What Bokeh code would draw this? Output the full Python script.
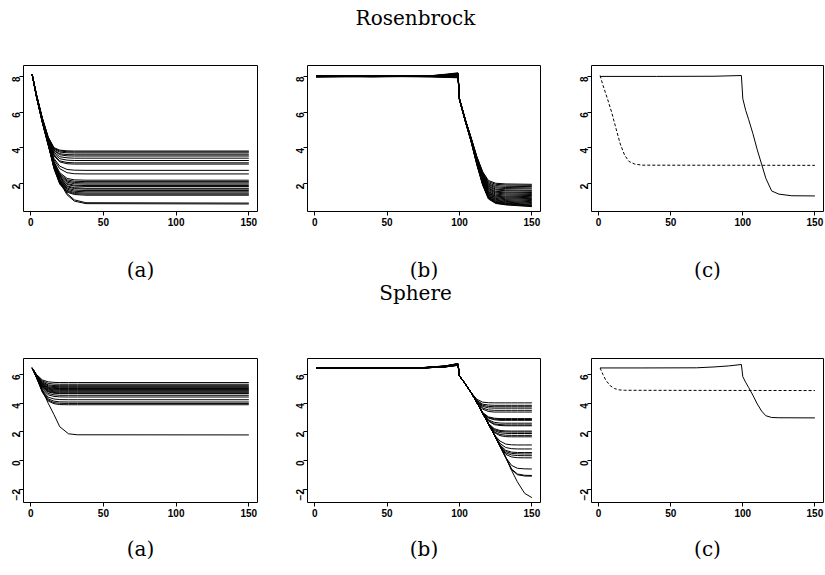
import math
from bokeh.plotting import figure
from bokeh.layouts import column, row
from bokeh.models import Range1d, FixedTicker, ColumnDataSource
from bokeh.core.properties import value
from bokeh.embed import file_html
from bokeh.resources import INLINE

# ---------------- texts and axes ----------------
TITLES = ["Rosenbrock", "Sphere"]
CAPTIONS = ["(a)", "(b)", "(c)"]
X_TICKS = [0, 50, 100, 150]
TOP_Y_TICKS = [2, 4, 6, 8]
BOT_Y_TICKS = [-2, 0, 2, 4, 6]
X_RANGE = (-4.96, 155.96)
TOP_Y_RANGE = (0.45, 8.61)
BOT_Y_RANGE = (-2.94, 7.12)

# ---------------- Rosenbrock (a) ----------------
A_X = [1, 4, 8, 12, 16, 20, 25, 30, 38, 150]
A_Y = [
    [8.10, 6.98, 5.68, 4.62, 4.02, 3.88, 3.84, 3.83, 3.83, 3.83],
    [8.10, 6.97, 5.66, 4.60, 3.98, 3.83, 3.79, 3.78, 3.78, 3.78],
    [8.10, 6.96, 5.65, 4.58, 3.94, 3.77, 3.73, 3.72, 3.72, 3.72],
    [8.10, 6.95, 5.64, 4.55, 3.88, 3.68, 3.63, 3.62, 3.62, 3.62],
    [8.10, 6.95, 5.62, 4.52, 3.84, 3.62, 3.56, 3.55, 3.55, 3.55],
    [8.10, 6.94, 5.60, 4.50, 3.76, 3.51, 3.45, 3.43, 3.43, 3.43],
    [8.10, 6.93, 5.60, 4.47, 3.68, 3.40, 3.32, 3.30, 3.30, 3.30],
    [8.10, 6.92, 5.58, 4.45, 3.60, 3.28, 3.19, 3.17, 3.17, 3.17],
    [8.10, 6.92, 5.57, 4.43, 3.56, 3.22, 3.12, 3.10, 3.10, 3.10],
    [8.10, 6.90, 5.55, 4.40, 3.42, 2.98, 2.80, 2.76, 2.75, 2.75],
    [8.10, 6.90, 5.55, 4.38, 3.34, 2.84, 2.62, 2.56, 2.55, 2.55],
    [8.10, 6.90, 5.53, 4.35, 3.24, 2.62, 2.30, 2.22, 2.20, 2.20],
    [8.10, 6.90, 5.52, 4.33, 3.20, 2.55, 2.22, 2.14, 2.12, 2.12],
    [8.10, 6.88, 5.52, 4.32, 3.16, 2.50, 2.15, 2.07, 2.05, 2.05],
    [8.10, 6.88, 5.50, 4.30, 3.12, 2.44, 2.09, 2.00, 1.98, 1.98],
    [8.10, 6.88, 5.50, 4.30, 3.08, 2.38, 2.01, 1.92, 1.90, 1.90],
    [8.10, 6.87, 5.50, 4.28, 3.04, 2.32, 1.96, 1.87, 1.85, 1.85],
    [8.10, 6.87, 5.48, 4.27, 3.00, 2.26, 1.88, 1.78, 1.75, 1.75],
    [8.10, 6.87, 5.48, 4.26, 2.98, 2.22, 1.83, 1.73, 1.70, 1.70],
    [8.10, 6.86, 5.47, 4.25, 2.95, 2.16, 1.76, 1.65, 1.62, 1.62],
    [8.10, 6.86, 5.46, 4.24, 2.92, 2.11, 1.70, 1.58, 1.55, 1.55],
    [8.10, 6.85, 5.45, 4.22, 2.90, 2.06, 1.63, 1.51, 1.48, 1.48],
    [8.10, 6.85, 5.45, 4.21, 2.87, 2.01, 1.58, 1.45, 1.42, 1.42],
    [8.10, 6.85, 5.44, 4.20, 2.84, 1.97, 1.53, 1.40, 1.36, 1.36],
    [8.10, 6.84, 5.42, 4.18, 3.05, 2.15, 1.45, 1.10, 0.94, 0.92],
    [8.10, 6.84, 5.40, 4.15, 3.00, 2.08, 1.38, 1.03, 0.89, 0.87],
]

# ---------------- Rosenbrock (b) ----------------
B_X = [1, 40, 80, 90, 99, 100, 104, 108, 112, 116, 120, 125, 132, 150]
B_PRE = [
    [8.02, 8.00, 8.03, 8.09, 8.15], [7.99, 8.01, 7.98, 7.95, 7.92],
    [8.01, 7.99, 8.02, 8.06, 8.10], [8.00, 8.02, 8.01, 8.04, 8.07],
    [7.98, 8.00, 8.00, 8.00, 8.02], [8.03, 8.01, 8.04, 8.12, 8.20],
    [8.00, 7.99, 8.00, 8.02, 8.05], [7.97, 8.00, 7.99, 7.97, 7.98],
    [8.02, 8.02, 8.03, 8.07, 8.13], [8.01, 8.00, 8.01, 8.05, 8.09],
    [7.99, 7.98, 8.00, 8.03, 8.06], [8.00, 8.01, 8.02, 8.08, 8.16],
    [8.02, 7.99, 8.01, 8.01, 8.04], [7.98, 8.01, 7.99, 8.02, 8.08],
    [8.01, 8.00, 8.03, 8.10, 8.18], [8.00, 8.00, 7.98, 7.96, 7.95],
    [7.99, 8.02, 8.00, 8.04, 8.11], [8.03, 8.00, 8.02, 8.05, 8.08],
    [8.00, 7.98, 8.01, 8.07, 8.14], [7.98, 8.01, 8.00, 7.99, 8.01],
    [8.01, 7.99, 8.02, 8.09, 8.17], [8.00, 8.00, 8.01, 8.03, 8.06],
    [8.02, 8.01, 7.99, 7.98, 8.00], [7.99, 8.00, 8.02, 8.06, 8.12],
]
B_POST = [
    [6.75, 5.60, 4.58, 3.52, 2.68, 2.18, 2.03, 1.99, 1.97],
    [6.75, 5.60, 4.57, 3.50, 2.64, 2.12, 1.97, 1.93, 1.91],
    [6.75, 5.59, 4.56, 3.48, 2.60, 2.05, 1.90, 1.86, 1.84],
    [6.75, 5.59, 4.55, 3.46, 2.56, 1.99, 1.83, 1.79, 1.77],
    [6.75, 5.58, 4.55, 3.44, 2.52, 1.94, 1.77, 1.73, 1.71],
    [6.74, 5.58, 4.54, 3.42, 2.48, 1.88, 1.70, 1.66, 1.63],
    [6.74, 5.57, 4.53, 3.40, 2.45, 1.84, 1.65, 1.61, 1.58],
    [6.74, 5.57, 4.52, 3.38, 2.42, 1.78, 1.58, 1.54, 1.51],
    [6.74, 5.56, 4.51, 3.36, 2.38, 1.74, 1.53, 1.49, 1.46],
    [6.73, 5.56, 4.50, 3.34, 2.35, 1.69, 1.48, 1.43, 1.40],
    [6.73, 5.55, 4.49, 3.32, 2.32, 1.64, 1.42, 1.37, 1.34],
    [6.73, 5.55, 4.48, 3.30, 2.28, 1.58, 1.36, 1.31, 1.28],
    [6.72, 5.54, 4.47, 3.28, 2.25, 1.54, 1.31, 1.26, 1.22],
    [6.72, 5.54, 4.46, 3.26, 2.22, 1.50, 1.27, 1.21, 1.17],
    [6.72, 5.53, 4.45, 3.24, 2.19, 1.46, 1.22, 1.16, 1.12],
    [6.71, 5.53, 4.44, 3.22, 2.16, 1.42, 1.18, 1.11, 1.06],
    [6.71, 5.52, 4.43, 3.20, 2.13, 1.38, 1.13, 1.06, 1.00],
    [6.71, 5.52, 4.42, 3.18, 2.10, 1.34, 1.09, 1.01, 0.95],
    [6.70, 5.51, 4.41, 3.16, 2.07, 1.30, 1.05, 0.97, 0.90],
    [6.70, 5.51, 4.40, 3.14, 2.04, 1.27, 1.01, 0.93, 0.85],
    [6.70, 5.50, 4.39, 3.12, 2.01, 1.24, 0.98, 0.90, 0.81],
    [6.69, 5.50, 4.38, 3.10, 1.98, 1.21, 0.95, 0.87, 0.78],
    [6.69, 5.49, 4.37, 3.08, 1.95, 1.18, 0.92, 0.84, 0.75],
    [6.69, 5.49, 4.36, 3.06, 1.92, 1.15, 0.90, 0.82, 0.72],
]

# ---------------- Rosenbrock (c) ----------------
C_SOLID_X = [1, 40, 80, 99, 100, 102, 104, 107, 110, 113, 116, 120, 125, 134, 150]
C_SOLID_Y = [8.00, 8.00, 8.01, 8.05, 6.75, 6.10, 5.60, 4.80, 3.90, 3.10, 2.30, 1.60, 1.42, 1.33, 1.32]
C_DASH_X = [1, 3, 6, 9, 12, 15, 18, 21, 25, 30, 150]
C_DASH_Y = [8.05, 7.50, 6.78, 6.00, 5.10, 4.22, 3.60, 3.25, 3.10, 3.04, 3.03]

# ---------------- Sphere (a) ----------------
D_X = [1, 4, 8, 12, 16, 20, 26, 32, 150]
D_Y = [
    [6.46, 6.00, 5.62, 5.49, 5.45, 5.44, 5.44, 5.44, 5.44],
    [6.46, 5.97, 5.55, 5.38, 5.33, 5.32, 5.32, 5.32, 5.32],
    [6.46, 5.95, 5.48, 5.28, 5.23, 5.22, 5.22, 5.22, 5.22],
    [6.46, 5.94, 5.43, 5.21, 5.16, 5.15, 5.15, 5.15, 5.15],
    [6.46, 5.93, 5.38, 5.14, 5.09, 5.08, 5.08, 5.08, 5.08],
    [6.46, 5.92, 5.34, 5.09, 5.03, 5.02, 5.02, 5.02, 5.02],
    [6.46, 5.91, 5.30, 5.04, 4.97, 4.96, 4.96, 4.96, 4.96],
    [6.46, 5.90, 5.26, 4.99, 4.92, 4.90, 4.90, 4.90, 4.90],
    [6.46, 5.89, 5.22, 4.93, 4.86, 4.84, 4.84, 4.84, 4.84],
    [6.46, 5.88, 5.19, 4.88, 4.80, 4.78, 4.78, 4.78, 4.78],
    [6.46, 5.88, 5.15, 4.83, 4.74, 4.72, 4.72, 4.72, 4.72],
    [6.46, 5.87, 5.12, 4.78, 4.69, 4.67, 4.67, 4.67, 4.67],
    [6.46, 5.85, 5.06, 4.68, 4.58, 4.55, 4.55, 4.55, 4.55],
    [6.46, 5.84, 5.00, 4.58, 4.47, 4.44, 4.43, 4.43, 4.43],
    [6.46, 5.82, 4.90, 4.42, 4.29, 4.25, 4.24, 4.24, 4.24],
    [6.46, 5.80, 4.84, 4.30, 4.14, 4.09, 4.08, 4.08, 4.08],
    [6.46, 5.79, 4.80, 4.22, 4.04, 3.99, 3.98, 3.98, 3.98],
    [6.46, 5.78, 4.76, 4.15, 3.96, 3.90, 3.89, 3.89, 3.89],
    [6.46, 5.78, 4.90, 4.00, 3.20, 2.35, 1.86, 1.79, 1.78],
]

# ---------------- Sphere (b) ----------------
E_X = [1, 40, 75, 90, 99, 100, 104, 108, 112, 116, 120, 124, 128, 132, 136, 140, 145, 150]
E_PRE = [
    [6.45, 6.45, 6.47, 6.56, 6.70], [6.44, 6.45, 6.46, 6.53, 6.65],
    [6.46, 6.44, 6.48, 6.58, 6.74], [6.45, 6.46, 6.47, 6.55, 6.68],
    [6.44, 6.44, 6.46, 6.54, 6.66], [6.46, 6.45, 6.49, 6.60, 6.77],
    [6.45, 6.45, 6.46, 6.55, 6.69], [6.44, 6.46, 6.47, 6.57, 6.72],
    [6.46, 6.44, 6.46, 6.53, 6.64], [6.45, 6.45, 6.48, 6.59, 6.75],
    [6.44, 6.45, 6.47, 6.56, 6.70], [6.46, 6.46, 6.46, 6.54, 6.67],
    [6.45, 6.44, 6.47, 6.57, 6.71], [6.44, 6.45, 6.48, 6.58, 6.73],
    [6.46, 6.45, 6.46, 6.55, 6.68], [6.45, 6.46, 6.47, 6.56, 6.70],
    [6.44, 6.44, 6.46, 6.53, 6.65], [6.46, 6.45, 6.49, 6.60, 6.76],
    [6.45, 6.45, 6.47, 6.55, 6.69], [6.44, 6.46, 6.46, 6.54, 6.66],
    [6.46, 6.44, 6.48, 6.58, 6.74], [6.45, 6.45, 6.47, 6.56, 6.71],
    [6.44, 6.45, 6.46, 6.55, 6.68], [6.46, 6.46, 6.48, 6.59, 6.75],
    [6.45, 6.44, 6.47, 6.57, 6.72], [6.44, 6.45, 6.46, 6.54, 6.67],
    [6.46, 6.45, 6.48, 6.58, 6.73],
]
E_POST = [
    [5.90, 5.35, 4.75, 4.27, 4.07, 4.03, 4.02, 4.02, 4.02, 4.02, 4.02, 4.02, 4.02],
    [5.90, 5.35, 4.75, 4.20, 3.93, 3.87, 3.85, 3.85, 3.85, 3.85, 3.85, 3.85, 3.85],
    [5.90, 5.35, 4.75, 4.16, 3.85, 3.77, 3.75, 3.75, 3.75, 3.75, 3.75, 3.75, 3.75],
    [5.90, 5.35, 4.75, 4.13, 3.77, 3.67, 3.65, 3.65, 3.65, 3.65, 3.65, 3.65, 3.65],
    [5.90, 5.35, 4.75, 4.10, 3.66, 3.53, 3.50, 3.50, 3.50, 3.50, 3.50, 3.50, 3.50],
    [5.90, 5.35, 4.75, 4.08, 3.58, 3.42, 3.38, 3.38, 3.38, 3.38, 3.38, 3.38, 3.38],
    [5.90, 5.35, 4.75, 4.05, 3.35, 3.04, 2.95, 2.92, 2.92, 2.92, 2.92, 2.92, 2.92],
    [5.90, 5.35, 4.75, 4.05, 3.33, 3.00, 2.89, 2.86, 2.86, 2.86, 2.86, 2.86, 2.86],
    [5.90, 5.35, 4.75, 4.05, 3.32, 2.96, 2.84, 2.80, 2.80, 2.80, 2.80, 2.80, 2.80],
    [5.90, 5.35, 4.75, 4.05, 3.30, 2.84, 2.66, 2.61, 2.60, 2.60, 2.60, 2.60, 2.60],
    [5.90, 5.35, 4.75, 4.05, 3.30, 2.78, 2.56, 2.50, 2.48, 2.48, 2.48, 2.48, 2.48],
    [5.90, 5.35, 4.75, 4.05, 3.30, 2.75, 2.50, 2.44, 2.42, 2.42, 2.42, 2.42, 2.42],
    [5.90, 5.35, 4.75, 4.05, 3.30, 2.58, 2.22, 2.09, 2.06, 2.05, 2.05, 2.05, 2.05],
    [5.90, 5.35, 4.75, 4.05, 3.30, 2.56, 2.16, 2.02, 1.99, 1.98, 1.98, 1.98, 1.98],
    [5.90, 5.35, 4.75, 4.05, 3.30, 2.55, 2.09, 1.93, 1.89, 1.88, 1.88, 1.88, 1.88],
    [5.90, 5.35, 4.75, 4.05, 3.30, 2.55, 2.00, 1.81, 1.76, 1.75, 1.75, 1.75, 1.75],
    [5.90, 5.35, 4.75, 4.05, 3.30, 2.55, 1.95, 1.73, 1.66, 1.65, 1.65, 1.65, 1.65],
    [5.90, 5.35, 4.75, 4.05, 3.30, 2.55, 1.80, 1.35, 1.14, 1.09, 1.08, 1.08, 1.08],
    [5.90, 5.35, 4.75, 4.05, 3.30, 2.55, 1.80, 1.18, 0.90, 0.82, 0.80, 0.80, 0.80],
    [5.90, 5.35, 4.75, 4.05, 3.30, 2.55, 1.80, 1.08, 0.70, 0.58, 0.55, 0.55, 0.55],
    [5.90, 5.35, 4.75, 4.05, 3.30, 2.55, 1.80, 1.04, 0.62, 0.49, 0.46, 0.45, 0.45],
    [5.90, 5.35, 4.75, 4.05, 3.30, 2.55, 1.80, 1.00, 0.52, 0.38, 0.34, 0.33, 0.33],
    [5.90, 5.35, 4.75, 4.05, 3.30, 2.55, 1.80, 1.00, 0.42, 0.24, 0.19, 0.18, 0.18],
    [5.90, 5.35, 4.75, 4.05, 3.30, 2.55, 1.80, 1.00, 0.20, -0.35, -0.55, -0.59, -0.60],
    [5.90, 5.35, 4.75, 4.05, 3.30, 2.55, 1.80, 1.00, 0.20, -0.60, -0.95, -1.04, -1.05],
    [5.90, 5.35, 4.75, 4.05, 3.30, 2.55, 1.80, 1.00, 0.20, -0.65, -1.00, -1.09, -1.10],
    [5.90, 5.35, 4.75, 4.05, 3.30, 2.55, 1.80, 1.00, 0.20, -0.70, -1.50, -2.30, -2.60],
]

# ---------------- Sphere (c) ----------------
F_SOLID_X = [1, 30, 68, 80, 90, 99, 100, 102, 104, 107, 110, 113, 116, 120, 125, 150]
F_SOLID_Y = [6.46, 6.46, 6.47, 6.53, 6.60, 6.70, 5.85, 5.45, 5.10, 4.55, 3.95, 3.45, 3.12, 3.00, 2.98, 2.97]
F_DASH_X = [1, 3, 5, 8, 11, 14, 18, 150]
F_DASH_Y = [6.46, 6.00, 5.60, 5.22, 5.02, 4.93, 4.90, 4.88]

# ---------------- layout (pixels) ----------------
PAGE_W = 824
SERIF = "DejaVu Serif"
SANS = "Liberation Sans"


def panel(width, left, right, top, bottom, height, yr, yticks):
    p = figure(width=width, height=height,
               x_range=Range1d(*X_RANGE), y_range=Range1d(*yr),
               output_backend="svg", toolbar_location=None,
               min_border_left=left, min_border_right=right,
               min_border_top=top, min_border_bottom=bottom)
    p.grid.visible = False
    p.outline_line_color = "black"
    p.outline_line_width = 1
    p.outline_line_alpha = 1.0
    p.xaxis.ticker = FixedTicker(ticks=X_TICKS)
    p.yaxis.ticker = FixedTicker(ticks=yticks)
    p.axis.axis_line_color = None
    p.axis.major_tick_out = 4
    p.axis.major_tick_in = 0
    p.axis.minor_tick_out = 0
    p.axis.minor_tick_in = 0
    p.axis.major_tick_line_color = "black"
    p.axis.major_label_text_font = SANS
    p.axis.major_label_text_font_style = "bold"
    p.axis.major_label_text_font_size = "10px"
    p.axis.major_label_text_color = "black"
    p.axis.major_label_standoff = 2
    p.yaxis.major_label_orientation = math.pi / 2
    p.yaxis.major_label_standoff = 3
    return p


def many(p, xs, ys_list):
    src = ColumnDataSource(dict(xs=[xs] * len(ys_list), ys=ys_list))
    p.multi_line(xs="xs", ys="ys", source=src, line_color="black", line_width=1)


def strip(height, xs, ys, texts):
    s = figure(width=PAGE_W, height=height,
               x_range=Range1d(0, PAGE_W), y_range=Range1d(height, 0),
               output_backend="svg", toolbar_location=None,
               x_axis_location=None, y_axis_location=None, min_border=0)
    s.grid.visible = False
    s.outline_line_color = None
    src = ColumnDataSource(dict(x=xs, y=ys, t=texts))
    s.text(x="x", y="y", text="t", source=src, text_font=value(SERIF),
           text_font_size="20px", text_align="center",
           text_baseline="alphabetic", text_color="black")
    return s


CAP_X = [140, 423.5, 707]
TITLE_X = 415

# Row 1  (page y 50..240, frame 65..211)
h1 = 190
pa = panel(284, 23, 27, 15, 29, h1, TOP_Y_RANGE, TOP_Y_TICKS)
many(pa, A_X, A_Y)
pb = panel(283, 23, 27, 15, 29, h1, TOP_Y_RANGE, TOP_Y_TICKS)
many(pb, B_X, [pre + post for pre, post in zip(B_PRE, B_POST)])
pc = panel(257, 24, 1, 15, 29, h1, TOP_Y_RANGE, TOP_Y_TICKS)
pc.line(C_SOLID_X, C_SOLID_Y, line_color="black", line_width=1)
pc.line(C_DASH_X, C_DASH_Y, line_color="black", line_width=1, line_dash="3 2")

# Row 2  (page y 330..525, frame 358..502)
h2 = 195
pd = panel(284, 23, 27, 28, 23, h2, BOT_Y_RANGE, BOT_Y_TICKS)
many(pd, D_X, D_Y)
pe = panel(283, 23, 27, 28, 23, h2, BOT_Y_RANGE, BOT_Y_TICKS)
many(pe, E_X, [pre + post for pre, post in zip(E_PRE, E_POST)])
pf = panel(257, 24, 1, 28, 23, h2, BOT_Y_RANGE, BOT_Y_TICKS)
pf.line(F_SOLID_X, F_SOLID_Y, line_color="black", line_width=1)
pf.line(F_DASH_X, F_DASH_Y, line_color="black", line_width=1, line_dash="3 2")

s1 = strip(50, [TITLE_X], [17], [TITLES[0]])
s2 = strip(90, CAP_X + [TITLE_X], [29, 29, 29, 52], CAPTIONS + [TITLES[1]])
s3 = strip(45, CAP_X, [23, 23, 23], CAPTIONS)

layout = column(s1, row(pa, pb, pc), s2, row(pd, pe, pf), s3)

open("out.html", "w").write(file_html(layout, INLINE))
